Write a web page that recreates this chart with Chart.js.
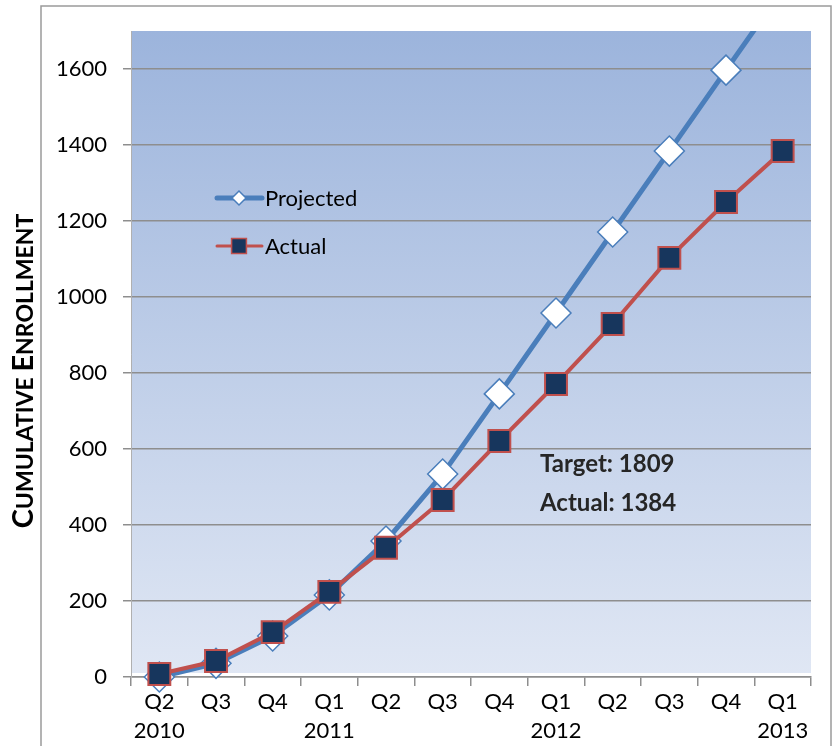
<!DOCTYPE html>
<html>
<head>
<meta charset="utf-8">
<script src="https://cdn.jsdelivr.net/npm/chart.js@4.4.1/dist/chart.umd.min.js"></script>
<style>
  html,body{margin:0;padding:0;background:#fff;}
  canvas{display:block;}
</style>
</head>
<body>
<canvas id="c" width="835" height="746"></canvas>
<script>
// data
const quarters=[['Q2','2010'],['Q3',''],['Q4',''],['Q1','2011'],['Q2',''],['Q3',''],['Q4',''],['Q1','2012'],['Q2',''],['Q3',''],['Q4',''],['Q1','2013']];
const projected=[0,36,108,216,358,534,745,958,1171,1384,1597,1809];
const actual=[8,42,118,224,340,466,621,771,929,1103,1250,1384];
const yTicks=[0,200,400,600,800,1000,1200,1400,1600];
const yMax=1700;

const FONT='Lato, "Open Sans", sans-serif';
const BLUE='#4a7ebb', RED='#c0504d', NAVY='#17365d', GRID='#8e8e8e';

const frameBg={
  id:'frameBg',
  beforeDraw(ch){
    const {ctx,chartArea:a}=ch;
    ctx.save();
    ctx.strokeStyle='#9a9a9a'; ctx.lineWidth=1.5;
    ctx.strokeRect(41,6,790,780);
    const g=ctx.createLinearGradient(0,a.top,0,a.bottom);
    g.addColorStop(0,'#9cb4dc'); g.addColorStop(1,'#e0e7f4');
    ctx.fillStyle=g;
    ctx.fillRect(a.left,a.top,a.right-a.left,a.bottom-a.top-4);
    ctx.restore();
  }
};

const extras={
  id:'extras',
  afterDraw(ch){
    const {ctx,chartArea:a}=ch;
    ctx.save();
    // y axis title, small caps
    const parts=[['C',29],['UMULATIVE ',23],['E',29],['NROLLMENT',23]];
    let total=0;
    parts.forEach(p=>{ctx.font='bold '+p[1]+'px '+FONT; total+=ctx.measureText(p[0]).width;});
    ctx.translate(33,371); ctx.rotate(-Math.PI/2);
    ctx.fillStyle='#000'; ctx.textBaseline='alphabetic'; ctx.textAlign='left';
    let x=-total/2;
    parts.forEach(p=>{ctx.font='bold '+p[1]+'px '+FONT; ctx.fillText(p[0],x,0); x+=ctx.measureText(p[0]).width;});
    ctx.restore();

    // legend inside plot
    ctx.save();
    const lx=a.left+86, items=[
      {label:'Projected',color:BLUE,w:5,style:'rectRot',r:7,fill:'#fff',bw:1.5,y:a.top+167},
      {label:'Actual',color:RED,w:3,style:'rect',r:10.5,fill:NAVY,bw:1.5,y:a.top+215}
    ];
    items.forEach(it=>{
      ctx.strokeStyle=it.color; ctx.lineWidth=it.w; ctx.lineCap='round';
      ctx.beginPath(); ctx.moveTo(lx,it.y); ctx.lineTo(lx+45,it.y); ctx.stroke();
      ctx.fillStyle=it.fill; ctx.strokeStyle=it.color; ctx.lineWidth=it.bw;
      Chart.helpers.drawPoint(ctx,{pointStyle:it.style,radius:it.r,borderWidth:it.bw,rotation:0},lx+22,it.y);
      ctx.fillStyle='#000'; ctx.font='22px '+FONT; ctx.textBaseline='middle'; ctx.textAlign='left';
      ctx.fillText(it.label,lx+48,it.y+1);
    });

    // target / actual note
    ctx.fillStyle='#262626'; ctx.font='bold 24px '+FONT; ctx.textBaseline='alphabetic';
    ctx.fillText('Target: '+projected[projected.length-1],a.left+409,472);
    ctx.fillText('Actual: '+actual[actual.length-1],a.left+409,511);
    ctx.restore();
  }
};

new Chart(document.getElementById('c'),{
  type:'line',
  data:{
    labels:quarters,
    datasets:[
      {label:'Projected',data:projected,order:2,borderColor:BLUE,borderWidth:5,
       pointStyle:'rectRot',pointRadius:15,pointBackgroundColor:'#fff',pointBorderColor:BLUE,pointBorderWidth:1.5,
       tension:0,clip:{left:false,right:false,top:0,bottom:false}},
      {label:'Actual',data:actual,order:1,borderColor:RED,borderWidth:4,
       pointStyle:'rect',pointRadius:15.5,pointBackgroundColor:NAVY,pointBorderColor:RED,pointBorderWidth:2,
       tension:0,clip:{left:false,right:false,top:0,bottom:false}}
    ]
  },
  options:{
    responsive:false,animation:false,devicePixelRatio:1,
    layout:{padding:{top:31,right:24,left:0,bottom:0}},
    plugins:{legend:{display:false},tooltip:{enabled:false}},
    scales:{
      x:{offset:true,
        grid:{offset:true,drawOnChartArea:false,drawTicks:true,tickLength:9,color:GRID,lineWidth:1.5},
        border:{color:GRID,width:1.5},
        ticks:{color:'#000',font:{family:FONT,size:22,lineHeight:1.3},padding:2,maxRotation:0,autoSkip:false},
        afterFit(s){s.height=69;}
      },
      y:{min:0,max:yMax,
        afterBuildTicks(s){s.ticks=yTicks.map(v=>({value:v}));},
        grid:{color:GRID,lineWidth:1.5,tickLength:8},
        border:{color:'#b0b0b0',width:1},
        ticks:{color:'#000',font:{family:FONT,size:22},padding:16,callback:v=>String(v)},
        afterFit(s){s.width=131;}
      }
    }
  },
  plugins:[frameBg,extras]
});
</script>
</body>
</html>
